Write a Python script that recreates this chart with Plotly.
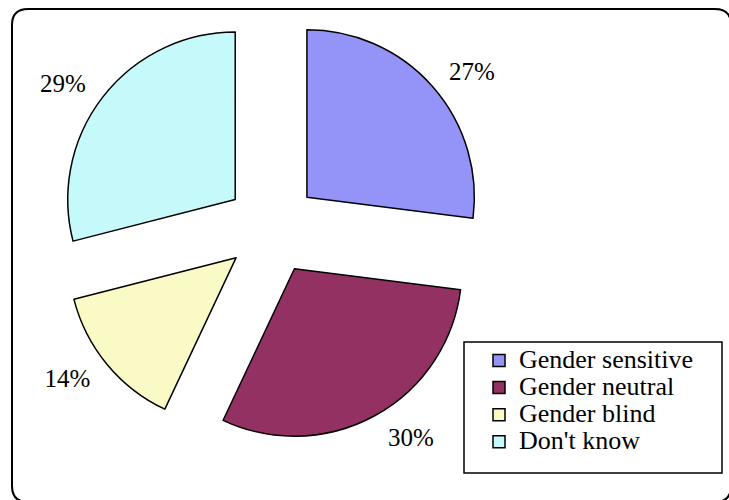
import plotly.graph_objects as go

labels = ["Gender sensitive", "Gender neutral", "Gender blind", "Don't know"]
values = [27, 30, 14, 29]
colors = ["#9494F8", "#933163", "#FAFAC6", "#C6FAFA"]

W, H = 729, 500


def px_x(v):
    return v / W


def px_y(v):
    return 1 - v / H


def rounded_rect(x0, y0, x1, y1, r):
    # pixel box -> path in paper coordinates
    rx = r / W
    ry = r / H
    a, b = px_x(x0), px_x(x1)
    top, bot = px_y(y0), px_y(y1)
    return (
        f"M{a + rx},{top} L{b - rx},{top} Q{b},{top} {b},{top - ry} "
        f"L{b},{bot + ry} Q{b},{bot} {b - rx},{bot} "
        f"L{a + rx},{bot} Q{a},{bot} {a},{bot + ry} "
        f"L{a},{top - ry} Q{a},{top} {a + rx},{top} Z"
    )


cx, cy = 272, 228
half = 214
pad = 13

legend_names = [f"<span style='font-size:26px'>{n}</span>" for n in labels]

fig = go.Figure()

# the slices
fig.add_trace(
    go.Pie(
        labels=legend_names,
        values=values,
        sort=False,
        direction="clockwise",
        rotation=0,
        pull=[0.278] * 4,
        marker=dict(
            colors=colors,
            line=dict(color="black", width=1.5)
        ),
        textinfo="none",
        hovertext=labels,
        hoverinfo="text+percent",
        domain=dict(
            x=[px_x(cx - half), px_x(cx + half)],
            y=[px_y(cy + half), px_y(cy - half)]
        )
    )
)

# percentage labels, a bit further out than plotly puts them
fig.add_trace(
    go.Pie(
        labels=legend_names,
        values=values,
        sort=False,
        direction="clockwise",
        rotation=0,
        pull=[0.278] * 4,
        marker=dict(
            colors=["rgba(0,0,0,0)"] * 4,
            line=dict(width=0)
        ),
        texttemplate="%{percent:.0%}",
        textposition="outside",
        textfont=dict(family="Liberation Serif", size=25, color="black"),
        hoverinfo="skip",
        showlegend=False,
        domain=dict(
            x=[px_x(cx - half - pad), px_x(cx + half + pad)],
            y=[max(0, px_y(cy + half + pad)), min(1, px_y(cy - half - pad))]
        )
    )
)

fig.update_layout(
    width=W,
    height=H,
    margin=dict(l=0, r=0, t=0, b=0, pad=0, autoexpand=False),
    paper_bgcolor="white",
    plot_bgcolor="white",
    font=dict(family="Liberation Serif", color="black"),
    legend=dict(
        x=px_x(479),
        y=px_y(342),
        xanchor="left",
        yanchor="top",
        borderwidth=0,
        bgcolor="rgba(0,0,0,0)",
        font=dict(family="Liberation Serif", size=18.5, color="black"),
        itemwidth=30,
        traceorder="normal"
    ),
    shapes=[
        dict(
            type="path",
            xref="paper",
            yref="paper",
            path=rounded_rect(12, 9, 731, 502, 16),
            line=dict(color="black", width=2),
            layer="below"
        ),
        # legend frame
        dict(
            type="rect",
            xref="paper",
            yref="paper",
            x0=px_x(464),
            x1=px_x(722),
            y0=px_y(473),
            y1=px_y(342),
            line=dict(color="black", width=1.5),
            fillcolor="white",
            layer="below"
        )
    ]
)

fig.write_html(
    "out.html",
    config={"displayModeBar": False},
    post_script="document.body.style.margin='0';document.body.style.overflow='hidden';"
)
